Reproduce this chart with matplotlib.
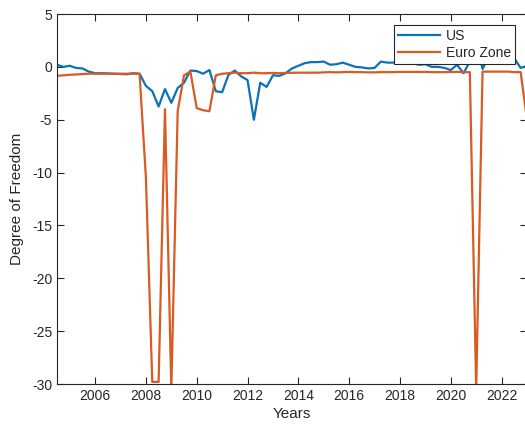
import numpy as np
import matplotlib
matplotlib.use("Agg")
import matplotlib.pyplot as plt

plt.rcParams['font.family'] = ['Liberation Sans', 'DejaVu Sans']
plt.rcParams['axes.unicode_minus'] = False

# quarterly dates, 2004 Q3 .. 2023 Q1
start_year = 2004.5
us = [0.2, 0.0, 0.1, -0.1, -0.15, -0.45, -0.6, -0.6, -0.62, -0.65,
      -0.68, -0.7, -0.6, -0.65, -1.8, -2.3, -3.75, -2.1, -3.4, -2.0,
      -1.5, -0.35, -0.4, -0.65, -0.3, -2.3, -2.4, -0.75, -0.35, -0.9,
      -1.25, -5.0, -1.5, -1.9, -0.8, -0.85, -0.6, -0.15, 0.1, 0.35,
      0.45, 0.45, 0.5, 0.2, 0.25, 0.4, 0.2, 0.0, -0.05, -0.15,
      -0.1, 0.5, 0.4, 0.4, 0.45, 0.35, 0.35, 0.2, 0.25, 0.0,
      0.0, -0.1, -0.3, 0.2, -0.6, 0.5, 2.5, -0.2, 1.0, 1.0,
      1.0, 0.9, 0.8, -0.1, 0.1]
euro = [-0.85, -0.8, -0.75, -0.72, -0.68, -0.65, -0.65, -0.65, -0.65, -0.65,
        -0.65, -0.65, -0.65, -0.65, -10.5, -29.8, -29.8, -4.0, -30.5, -4.2,
        -0.8, -0.45, -3.9, -4.1, -4.2, -0.8, -0.65, -0.6, -0.55, -0.6,
        -0.6, -0.55, -0.6, -0.6, -0.58, -0.6, -0.58, -0.56, -0.55, -0.55,
        -0.55, -0.55, -0.52, -0.5, -0.52, -0.5, -0.48, -0.5, -0.5, -0.52,
        -0.52, -0.5, -0.5, -0.5, -0.48, -0.48, -0.48, -0.48, -0.48, -0.5,
        -0.5, -0.5, -0.48, -0.48, -0.5, -0.5, -30.5, -0.45, -0.45, -0.45,
        -0.45, -0.45, -0.5, -0.5, -5.0]
years = start_year + 0.25 * np.arange(len(us))

xticks = [2006, 2008, 2010, 2012, 2014, 2016, 2018, 2020, 2022]
yticks = [5, 0, -5, -10, -15, -20, -25, -30]

fig = plt.figure(figsize=(5.25, 4.29), dpi=100)
ax = fig.add_axes([57/525, (429-384)/429, 470/525, 370/429])

ax.plot(years, us, color='#0A72B8', lw=1.6, label='US')
ax.plot(years, euro, color='#D95A22', lw=1.6, label='Euro Zone')

ax.set_xlim(2004.5, 2023.0)
ax.set_ylim(-30, 5)
ax.set_xticks(xticks)
ax.set_yticks(yticks)

dark = '#262626'
for s in ax.spines.values():
    s.set_color(dark)
    s.set_linewidth(0.8)
ax.tick_params(direction='in', top=True, right=True, length=5, width=0.8,
               colors=dark, labelsize=10, labelcolor=dark)
ax.set_xlabel('Years', fontsize=11, color=dark, labelpad=3)
ax.set_ylabel('Degree of Freedom', fontsize=11, color=dark, labelpad=6)

leg = ax.legend(loc='upper right', bbox_to_anchor=(1 - 12/470, 1 - 11/370),
                borderaxespad=0, fancybox=False, framealpha=1,
                edgecolor=dark, fontsize=10, handlelength=3.0,
                handletextpad=0.4, borderpad=0.3, labelspacing=0.2)
leg.get_frame().set_linewidth(0.8)
for t in leg.get_texts():
    t.set_color(dark)

fig.savefig('out.png', dpi=100)
